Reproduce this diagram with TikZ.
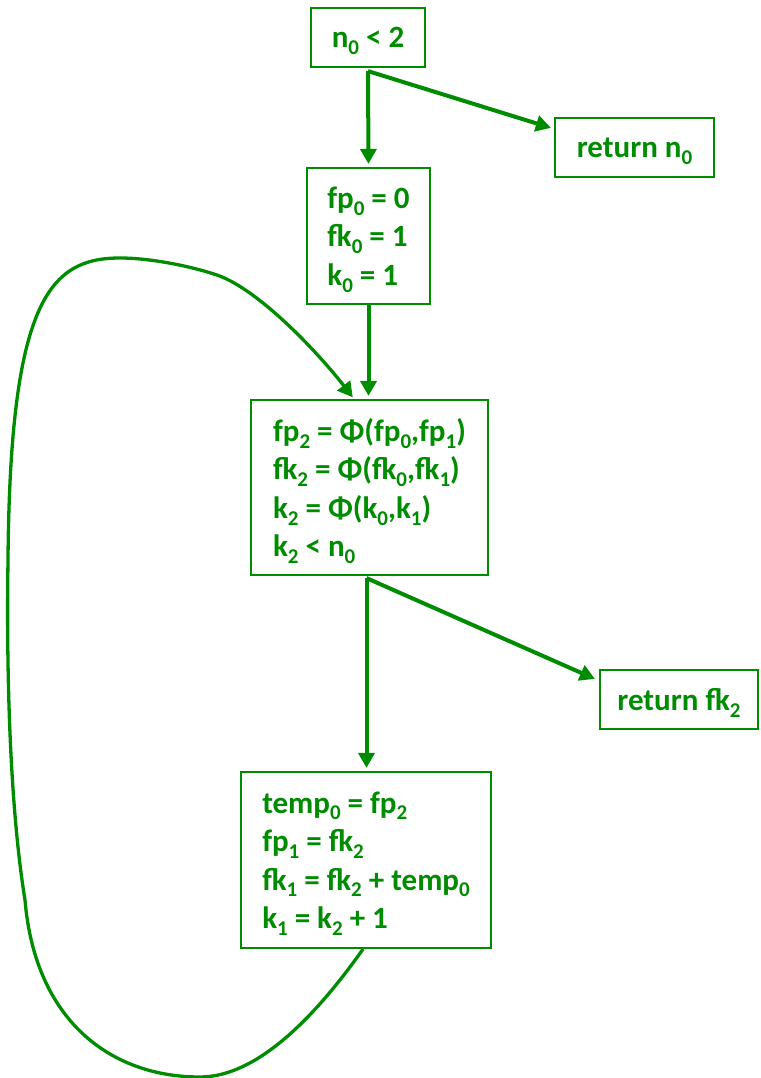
\documentclass[tikz,border=0pt]{standalone}
\usepackage{fontspec}
\setmainfont{Carlito}
\usetikzlibrary{arrows.meta,calc}
\definecolor{cfg}{RGB}{0,140,0}
\newcommand\sbx[1]{\raisebox{-0.22em}{\fontsize{21}{21}\selectfont #1}}
\begin{document}
\begin{tikzpicture}[x=1pt,y=-1pt,
  blk/.style={draw=cfg, line width=2.2pt, text=cfg, font=\fontsize{31}{38.5}\selectfont\bfseries, inner sep=0pt, align=left, text depth=0pt},
  arr/.style={draw=cfg, line width=4pt, -{Triangle[length=15pt,width=16pt]}, shorten >=3pt},
  backarc/.style={draw=cfg, line width=3.3pt, -{Triangle[length=15pt,width=16pt]}, shorten >=2pt}]
\useasboundingbox (0,0) rectangle (760,1078);

\node[blk, minimum width=114pt, minimum height=59pt] (A) at (368,37.5) {n\sbx{0} < 2};
\node[blk, minimum width=159pt, minimum height=59pt] (RN) at (634.5,147.5) {return n\sbx{0}};
\node[blk, minimum width=123pt, minimum height=136pt] (B) at (368.5,236) {fp\sbx{0} = 0\\fk\sbx{0} = 1\\k\sbx{0} = 1};
\node[blk, minimum width=237pt, minimum height=175pt] (C) at (369.5,487.5) {fp\sbx{2} = Φ(fp\sbx{0},fp\sbx{1})\\fk\sbx{2} = Φ(fk\sbx{0},fk\sbx{1})\\k\sbx{2} = Φ(k\sbx{0},k\sbx{1})\\k\sbx{2} < n\sbx{0}};
\node[blk, minimum width=158pt, minimum height=59pt] (RF) at (679,699.5) {return fk\sbx{2}};
\node[blk, minimum width=250pt, minimum height=176pt] (D) at (366,860) {temp\sbx{0} = fp\sbx{2}\\fp\sbx{1} = fk\sbx{2}\\fk\sbx{1} = fk\sbx{2} + temp\sbx{0}\\k\sbx{1} = k\sbx{2} + 1};

\coordinate (a0) at ([yshift=-3pt]A.south);
\draw[arr] (a0) -- (B.north);
\draw[arr, shorten >=0pt] (a0) -- ([xshift=-3pt,yshift=-11pt]RN.north west);
\draw[arr] (B.south) -- (B.south |- C.north);
\coordinate (c0) at ([xshift=-3pt,yshift=-2pt]C.south);
\draw[arr] (c0) -- (c0 |- D.north);
\draw[arr, shorten >=0pt] (c0) -- ([xshift=-4pt,yshift=-10pt]RF.north west);

\coordinate (d0) at ([xshift=-3pt]D.south);
\coordinate (cin) at ([xshift=-15.5pt]C.north);
\draw[backarc] (d0) .. controls (320,1010) and (260,1077) .. (200,1077)
  .. controls (110,1077) and (35,1020) .. (25,900)
  .. controls (12,820) and (6,700) .. (8,560)
  .. controls (10,300) and (50,258) .. (120,258)
  .. controls (150,258) and (190,266) .. (217,275)
  .. controls (260,290) and (320,355) .. (cin);
\end{tikzpicture}
\end{document}
